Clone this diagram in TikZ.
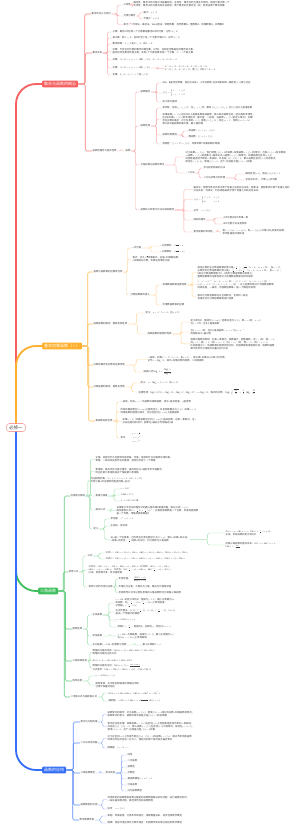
\documentclass[tikz,border=0pt]{standalone}
\usepackage{amsmath}
\usepackage{fontspec}
\setmainfont{Noto Sans CJK SC}
\DeclareFontShape{OT1}{cmr}{m}{n}{<->cmr10}{}
\DeclareFontShape{OML}{cmm}{m}{it}{<->cmmi10}{}
\DeclareFontShape{OMS}{cmsy}{m}{n}{<->cmsy10}{}
\DeclareFontShape{OT1}{cmr}{bx}{n}{<->cmbx10}{}
\usetikzlibrary{calc}
\definecolor{cred}{RGB}{246,96,96}
\definecolor{corange}{RGB}{255,176,46}
\definecolor{cgreen}{RGB}{62,190,92}
\definecolor{cblue}{RGB}{52,110,246}
\definecolor{ctext}{RGB}{64,64,64}
\tikzset{
	root/.style={draw=cred!60, line width=0.6pt, fill=white, rounded corners=3pt, inner xsep=3pt, inner ysep=2pt, font=\fontsize{4.4}{4.4}\selectfont, text=ctext},
	branch/.style={fill=#1, text=white, rounded corners=1pt, anchor=west, inner xsep=2pt, inner ysep=1.4pt, font=\fontsize{4}{4}\selectfont},
	leaf/.style={anchor=west, inner sep=0.4pt, align=left, text=ctext, font=\fontsize{2.4}{3}\selectfont},
	trunk/.style={draw=#1, line width=1.8pt, rounded corners=20pt},
	limb/.style={draw=#1!80, line width=0.6pt, rounded corners=1.5pt},
	twig/.style={draw=#1!50, line width=0.45pt, rounded corners=1.5pt},
}
\begin{document}
\begin{tikzpicture}[x=1pt,y=-1pt]
	\fill[white] (0,0) rectangle (300,825);
	\node[root] (root) at (16,427.5) {必修一};
	\node[branch=cred] (R) at (42,84) {集合与函数的概念};
	\node[branch=corange] (O) at (42,346) {基本初等函数（Ⅰ）};
	\node[branch=cgreen] (G) at (38,591) {三角函数};
	\node[branch=cblue] (B) at (42,770) {函数的应用};
	\draw[trunk=cred] (root.north) |- (R.west);
	\draw[trunk=corange] (root.north) |- (O.west);
	\draw[trunk=cgreen] (root.south) |- (G.west);
	\draw[trunk=cblue] (root.south) |- (B.west);

	\node[leaf] (R1) at (91,14) {集合的含义与表示};
	\node[leaf] (R1a) at (123,5) {三特性};
	\node[leaf] (R1a1) at (133,4.5) {确定性：集合中的元素必须是确定的；互异性：集合中的元素互不相同，相同元素只算一个\\无序性：集合中的元素没有先后顺序；两个集合的元素完全一样，就称这两个集合相等};
	\node[leaf] (R1b) at (123,16) {元素与集合};
	\node[leaf] (R1b1) at (143,12.5) {属于：$a\in A$};
	\node[leaf] (R1b2) at (143,19) {不属于：$a\notin A$};
	\node[leaf] (R1c) at (123,24.5) {表示};
	\node[leaf] (R1c1) at (132,24.5) {列举法、描述法、Venn图法；常用数集：自然数集N、整数集Z、有理数集Q、实数集R};
	\node[leaf] (R2) at (92,53) {集合关系};
	\node[leaf] (R2a) at (112,32) {子集：集合A中任意一个元素都是集合B中的元素，记作$A\subseteq B$};
	\node[leaf] (R2b) at (112,38) {真子集：若$A\subseteq B$，且B中至少有一个元素不属于A，记作$A\subset B$};
	\node[leaf] (R2c) at (112,44) {集合相等：$A\subseteq B$且$B\subseteq A$，则$A=B$};
	\node[leaf] (R2d) at (112,51.5) {空集：不含任何元素的集合叫做空集，记作$\emptyset$，并规定空集是任何集合的子集，\\是任何非空集合的真子集；含有$n$个元素的集合有$2^n$个子集，$2^n-1$个真子集};
	\node[leaf] (R2e) at (112,60) {并集：$A\cup B=\{x\mid x\in A$或$x\in B\}$，$A\cup A=A$，$A\cup\emptyset=A$};
	\node[leaf] (R2f) at (112,68) {交集：$A\cap B=\{x\mid x\in A$且$x\in B\}$};
	\node[leaf] (R2f1) at (164,68.7) {$A\cap A=A$，$A\cap\emptyset=\emptyset$，$A\cap B=B\cap A$，\\$A\cap B\subseteq A$，$A\cap B\subseteq B$，若$A\subseteq B$则$A\cap B=A$};
	\node[leaf] (R2g) at (112,75) {补集：$\mathrm{C}_UA=\{x\mid x\in U$且$x\notin A\}$};
	\node[leaf] (R3) at (92,151) {函数的概念与基本性质};
	\node[leaf] (R3x) at (125,151) {函数};
	\node[leaf] (R3a) at (140,92) {函数概念};
	\node[leaf] (R3a1) at (162,83) {设A、B是非空数集，按对应关系$f$，A中任意数$x$在B中都有唯一确定的$f(x)$和它对应};
	\node[leaf] (R3a2) at (162,93) {$f(x)=\begin{cases}x, & x\ge0\\ -x, & x<0\end{cases}$};
	\node[leaf] (R3a3) at (162,102) {定义域与值域};
	\node[leaf] (R3b) at (140,126) {函数性质};
	\node[leaf] (R3b1) at (162,108) {单调性：任取$x_1,x_2\in D$，当$x_1<x_2$时，都有$f(x_1)<f(x_2)$，则$f(x)$在D上是增函数};
	\node[leaf] (R3b2) at (162,119) {如果函数$y=f(x)$在区间D上是增函数或减函数，那么就说函数在这一区间具有单调性，\\区间D叫做$y=f(x)$的单调区间；最大值：一般地，设函数$y=f(x)$的定义域为I，如果\\存在实数M满足：对于任意的$x\in I$，都有$f(x)\le M$；存在$x_0\in I$，使得$f(x_0)=M$，\\那么称M是函数的最大值，最小值同理};
	\node[leaf] (R3b3) at (162,135) {函数的奇偶性};
	\node[leaf] (R3b3a) at (188,131) {奇函数：$f(-x)=-f(x)$};
	\node[leaf] (R3b3b) at (188,137) {偶函数：$f(-x)=f(x)$};
	\node[leaf] (R3b4) at (162,144) {周期性：$f(x+T)=f(x)$，非零常数T叫做函数的周期};
	\node[leaf] (R3c) at (140,165) {方程的根与函数的零点};
	\node[leaf] (R3c1) at (185,157) {对于函数$y=f(x)$，我们把使$f(x)=0$的实数$x$叫做函数$y=f(x)$的零点；方程$f(x)=0$有实数根\\$\Leftrightarrow$函数$y=f(x)$的图象与$x$轴有交点$\Leftrightarrow$函数$y=f(x)$有零点；如果函数在区间$[a,b]$上\\的图象是连续不断的一条曲线，并且有$f(a)\cdot f(b)<0$，那么函数在区间$(a,b)$内有零点，\\即存在$c\in(a,b)$，使得$f(c)=0$，这个$c$也就是方程$f(x)=0$的根};
	\node[leaf] (R3c2) at (187,173) {二分法};
	\node[leaf] (R3c2a) at (203,168) {求方程近似解的方法};
	\node[leaf] (R3c2b) at (203,178) {二分法求零点的步骤};
	\node[leaf] (R3c2b1) at (245,174) {确定区间$[a,b]$，验证$f(a)f(b)<0$};
	\node[leaf] (R3c2b2) at (245,180) {求区间中点$c$，计算$f(c)$并判断};
	\node[leaf] (R3d) at (140,210) {函数的三种表示方法与映射概念};
	\node[leaf] (R3d1) at (193,189.5) {解析法：用数学表达式表示两个变量之间的对应关系；图象法：用图象表示两个变量之间的\\对应关系；列表法：列出表格来表示两个变量之间的对应关系};
	\node[leaf] (R3d2) at (193,199.5) {$f(x)=\begin{cases}x^2+1, & x\le1\\ 2x, & x>1\end{cases}$};
	\node[leaf] (R3d3) at (193,211) {记作 \quad $y=f(x)$};
	\node[leaf] (R3d4) at (193,220) {映射的概念};
	\node[leaf] (R3d4a) at (223,218) {A中元素在B中有唯一象};
	\node[leaf] (R3d4b) at (223,224) {B中元素可以没有原象};
	\node[leaf] (R3d5) at (193,232) {复合函数的单调性};
	\node[leaf] (R3d5a) at (222,232) {若$y=f(u)$，$u=g(x)$，则$y=f[g(x)]$叫做$f$和$g$的复合函数；\\单调性满足同增异减};

	\node[leaf] (O1) at (93,272) {指数与指数幂的运算及性质};
	\node[leaf] (O1a) at (132,248) {$n$次方根};
	\node[leaf] (O1a1) at (160,246) {$n$为奇数时，$\sqrt[n]{a^n}=a$};
	\node[leaf] (O1a2) at (160,252) {$n$为偶数时，$\sqrt[n]{a^n}=|a|$};
	\node[leaf] (O1b) at (132,259) {根式：式子$\sqrt[n]{a}$叫做根式，这里$n$叫做根指数，\\$a$叫做被开方数；负数没有偶次方根};
	\node[leaf] (O1c) at (130,295) {分数指数幂的意义};
	\node[leaf] (O1c1) at (162,285) {有理数指数幂运算性质};
	\node[leaf] (O1c1a) at (197,272.5) {规定正数的正分数指数幂的意义是$a^{\frac mn}=\sqrt[n]{a^m}$（$a>0$，$m,n\in\mathrm N^*$，且$n>1$），\\正数的负分数指数幂的意义是$a^{-\frac mn}=1/a^{\frac mn}$（$a>0$，$m,n\in\mathrm N^*$，且$n>1$）；\\0的正分数指数幂等于0，0的负分数指数幂没有意义；\\整数指数幂的运算性质对于有理数指数幂也同样适用};
	\node[leaf] (O1c1b) at (197,284.5) {$a^r\cdot a^s=a^{r+s}$（$a>0$，$r,s\in\mathrm Q$）；$(a^r)^s=a^{rs}$（$a>0$，$r,s\in\mathrm Q$）；\\$(ab)^r=a^rb^r$（$a>0$，$b>0$，$r\in\mathrm Q$）；以上运算性质对于无理数指数幂\\同样适用，一般地，无理数指数幂$a^\alpha$是一个确定的实数};
	\node[leaf] (O1c1c) at (197,297) {根式与分数指数幂可以互相转化，化简时一般先\\将根式化为分数指数幂再进行运算};
	\node[leaf] (O1c2) at (162,305) {无理数指数幂的运算};
	\node[leaf] (O2) at (93,324) {指数函数的概念、图象及其性质};
	\node[leaf] (O2a) at (145,313) {定义：$y=a^x$（$a>0$，且$a\ne1$）};
	\node[leaf] (O2b) at (147,334) {指数函数的图象和性质};
	\node[leaf] (O2b1) at (190,322) {定义域为$\mathrm R$，值域为$(0,+\infty)$；图象过定点$(0,1)$，即$x=0$时，$y=1$；\\当$a>1$时，在$\mathrm R$上是增函数};
	\node[leaf] (O2b2) at (190,332) {当$0<a<1$时，在$\mathrm R$上是减函数；$y=a^x$与$y=a^{-x}$\\的图象关于$y$轴对称};
	\node[leaf] (O2b3) at (190,343.8) {底数对图象的影响：在第一象限内，底数越大，图象越高；当$a>1$时，若$x>0$，\\则$y>1$；若$x<0$，则$0<y<1$；当$0<a<1$时，若$x>0$，则$0<y<1$；\\比较幂值大小：同底数幂利用单调性比较，同指数幂利用图象比较，底数和指数\\都不同时可以借助中间量1进行比较};
	\node[leaf] (O3) at (93,365) {对数的概念及对数的运算性质};
	\node[leaf] (O3a) at (147,359.5) {一般地，如果$a^x=N$（$a>0$，且$a\ne1$），那么数$x$叫做以$a$为底$N$的对数，\\记作$x=\log_aN$，其中$a$叫做对数的底数，$N$叫做真数};
	\node[leaf] (O3b) at (143,372) {换底公式 $\log_ab=\dfrac{\log_cb}{\log_ca}$};
	\node[leaf] (O4) at (93,387) {对数函数的概念、图象及性质};
	\node[leaf] (O4a) at (140,383) {定义：$y=\log_ax$（$a>0$，且$a\ne1$）};
	\node[leaf] (O4b) at (138,392) {运算性质：$\log_a(MN)=\log_aM+\log_aN$，$\log_aM^n=n\log_aM$，根式的对数 \quad $\log_a\sqrt[n]{\dfrac MN}=\dfrac1n\log_a\dfrac MN$};
	\node[leaf] (O5) at (95,421) {幂函数及其性质};
	\node[leaf] (O5a) at (120,402) {一般地，形如$y=x^\alpha$的函数叫做幂函数，其中$x$是自变量，$\alpha$是常数};
	\node[leaf] (O5b) at (120,411.5) {所有的幂函数在$(0,+\infty)$上都有定义，并且图象都过点$(1,1)$；如果$\alpha>0$，\\则幂函数的图象过原点，并且在区间$[0,+\infty)$上是增函数};
	\node[leaf] (O5c) at (122,421.5) {如果$\alpha<0$，则幂函数在区间$(0,+\infty)$上是减函数，在第一象限内，当$x$\\从右边趋向原点时，图象在$y$轴右方无限逼近$y$轴};
	\node[leaf] (O5d) at (120,438) {常见 \; $\begin{array}{c}y=x^{\frac12}\\[1pt] y=x^2\\[1pt] y=x^{-1}\end{array}$};

	\node[leaf] (G1) at (70,496) {任意角与弧度};
	\node[leaf] (G1a) at (95,459.5) {正角：按逆时针方向旋转形成的角；负角：按顺时针方向旋转形成的角；\\零角：一条射线没有作任何旋转，就称它形成了一个零角};
	\node[leaf] (G1b) at (95,471.5) {象限角：角的顶点与原点重合，角的始边与$x$轴的非负半轴重合，\\终边在第几象限就说这个角是第几象限角};
	\node[leaf] (G1c) at (90,480.5) {终边相同的角：$S=\{\beta\mid\beta=\alpha+k\cdot360^\circ,k\in\mathrm Z\}$\\所有与角$\alpha$终边相同的角连同角$\alpha$在内};
	\node[leaf] (G1d) at (95,496) {角度与弧度};
	\node[leaf] (G1d1) at (120,489) {$\pi=180^\circ$};
	\node[leaf] (G1d2) at (120,495) {$1\,\mathrm{rad}\approx57.3^\circ$};
	\node[leaf] (G1d3) at (120,501) {$1^\circ\approx0.01745\,\mathrm{rad}$};
	\node[leaf] (G1e) at (95,510) {弧长公式};
	\node[leaf] (G1e1) at (116,510.5) {长度等于半径长的弧所对的圆心角叫做1弧度的角；弧长公式$l=|\alpha|r$，\\扇形面积公式$S=\frac12lr=\frac12|\alpha|r^2$；正角的弧度数是一个正数，负角的弧度数\\是一个负数，零角的弧度数是0};
	\node[leaf] (G1f) at (93,529) {定义};
	\node[leaf] (G1f1) at (110,519) {单位圆 \quad $x^2+y^2=1$};
	\node[leaf] (G1f2) at (110,526) {正弦线、余弦线};
	\node[leaf] (G1f3) at (110,539.5) {设$\alpha$是一个任意角，它的终边与单位圆交于点$P(x,y)$，那么$y$叫做$\alpha$的正弦，\\$x$叫做$\alpha$的余弦，$\frac yx$叫做$\alpha$的正切，它们统称为三角函数};
	\node[leaf] (G1f3a) at (225,533) {$\sin\alpha=y$，$\cos\alpha=x$，$\tan\alpha=\frac yx(x\ne0)$，\\正弦、余弦函数的定义域为$\mathrm R$};
	\node[leaf] (G1f3b) at (225,545) {同角三角函数的基本关系：$\sin^2\alpha+\cos^2\alpha=1$，\\$\tan\alpha=\frac{\sin\alpha}{\cos\alpha}$};
	\node[leaf] (G2) at (68,572) {诱导公式};
	\node[leaf] (G2a) at (87,556) {公式};
	\node[leaf] (G2a1) at (105,553) {公式一：$\sin(\alpha+2k\pi)=\sin\alpha$，$\cos(\alpha+2k\pi)=\cos\alpha$，$\tan(\alpha+2k\pi)=\tan\alpha$};
	\node[leaf] (G2a2) at (105,559) {公式二：$\sin(\pi+\alpha)=-\sin\alpha$，$\cos(\pi+\alpha)=-\cos\alpha$，$\tan(\pi+\alpha)=\tan\alpha$};
	\node[leaf] (G2b) at (88,570) {公式三：$\sin(-\alpha)=-\sin\alpha$，$\cos(-\alpha)=\cos\alpha$；公式四：$\sin(\pi-\alpha)=\sin\alpha$，\\$\cos(\pi-\alpha)=-\cos\alpha$；公式五：$\sin(\frac\pi2-\alpha)=\cos\alpha$，$\cos(\frac\pi2-\alpha)=\sin\alpha$；\\口诀：奇变偶不变，符号看象限};
	\node[leaf] (G2c) at (88,587) {诱导公式的作用与应用};
	\node[leaf] (G2c1) at (118,579) {化简求值：\quad $\dfrac{\sin(\pi-\alpha)}{\cos(\pi+\alpha)}$};
	\node[leaf] (G2c2) at (118,587) {负角化为正角，大角化为小角，最后化为锐角求值};
	\node[leaf] (G2c3) at (118,593) {利用诱导公式可以把任意角的三角函数转化为锐角三角函数};
	\node[leaf] (G3) at (72,629) {图象性质};
	\node[leaf] (G3a) at (92,615) {正弦函数};
	\node[leaf] (G3a1) at (115,603) {$y=\sin x$的定义域为$\mathrm R$，值域为$[-1,1]$，最小正周期为$2\pi$，\\奇函数，在$[-\frac\pi2+2k\pi,\frac\pi2+2k\pi]$上单调递增，\\对称轴$x=\frac\pi2+k\pi$};
	\node[leaf] (G3a2) at (115,612) {五点作图法：$(0,0)$，$(\frac\pi2,1)$，$(\pi,0)$，$(\frac{3\pi}2,-1)$，$(2\pi,0)$\\画出一个周期内的简图};
	\node[leaf] (G3a3) at (115,620) {$y=A\sin(\omega x+\varphi)$};
	\node[leaf] (G3a4) at (117,627) {周期$T=\frac{2\pi}{\omega}$，振幅为A，初相为$\varphi$，相位为$\omega x+\varphi$};
	\node[leaf] (G3b) at (92,636) {余弦函数};
	\node[leaf] (G3b1) at (117,636) {$y=\cos x$为偶函数，值域为$[-1,1]$，最小正周期为$2\pi$；\\在$[2k\pi-\pi,2k\pi]$上单调递增};
	\node[leaf] (G3c) at (92,645) {正切函数$y=\tan x$的图象与性质};
	\node[leaf] (G3c1) at (142,645) {最小正周期$T=\pi$};
	\node[leaf] (G4) at (72,661) {三角恒等变换};
	\node[leaf] (G4a) at (92,652.5) {两角和与差的余弦：$\cos(\alpha\pm\beta)=\cos\alpha\cos\beta\mp\sin\alpha\sin\beta$\\两角和与差的正弦公式};
	\node[leaf] (G4b) at (92,661) {$\sin(\alpha\pm\beta)=\sin\alpha\cos\beta\pm\cos\alpha\sin\beta$};
	\node[leaf] (G4c) at (92,668) {两角和与差的正切：$\tan(\alpha\pm\beta)=\frac{\tan\alpha\pm\tan\beta}{1\mp\tan\alpha\tan\beta}$，\\公式变形：$\tan\alpha+\tan\beta=\tan(\alpha+\beta)(1-\tan\alpha\tan\beta)$};
	\node[leaf] (G5) at (72,681) {简单应用};
	\node[leaf] (G5a) at (95,676) {$y=A\sin(\omega x+\varphi)$};
	\node[leaf] (G5b) at (95,685) {图象变换：先平移后伸缩或先伸缩后平移，\\注意平移量的区别};
	\node[leaf] (G6) at (70,697) {二倍角公式与辅助角公式};
	\node[leaf] (G6a) at (108,693) {$\sin2\alpha=2\sin\alpha\cos\alpha$，$\cos2\alpha=\cos^2\alpha-\sin^2\alpha$};
	\node[leaf] (G6b) at (108,701) {辅助角 \quad $a\sin x+b\cos x=\sqrt{a^2+b^2}\sin(x+\varphi)$};

	\node[leaf] (B1) at (80,722) {零点与方程的根};
	\node[leaf] (B1a) at (107,714.5) {函数零点的概念：对于函数$y=f(x)$，把使$f(x)=0$成立的实数$x$叫做函数的零点；\\函数零点的意义：函数的零点就是方程$f(x)=0$的实数根};
	\node[leaf] (B1b) at (107,726.5) {零点存在性定理：如果函数$y=f(x)$在区间$[a,b]$上的图象是连续不断的一条曲线，\\并且有$f(a)\cdot f(b)<0$，那么函数$y=f(x)$在区间$(a,b)$内有零点，即存在$c\in(a,b)$，\\使得$f(c)=0$，这个$c$也就是方程$f(x)=0$的根};
	\node[leaf] (B2) at (80,743) {二分法求近似解};
	\node[leaf] (B2a) at (107,738.5) {对于在区间$[a,b]$上连续不断且$f(a)\cdot f(b)<0$的函数$y=f(x)$，通过不断地把函数\\的零点所在的区间一分为二，使区间的两个端点逐步逼近零点};
	\node[leaf] (B2b) at (107,748) {精确度 \quad $|a-b|<\varepsilon$};
	\node[leaf] (B3) at (80,773) {几类函数模型};
	\node[leaf] (B3x) at (105,773) {常见类型};
	\node[leaf] (B3a) at (127,755) {线性};
	\node[leaf] (B3b) at (127,761) {二次函数};
	\node[leaf] (B3c) at (127,767) {指数型};
	\node[leaf] (B3d) at (127,773) {对数型};
	\node[leaf] (B3e) at (127,779) {幂函数模型$y=ax^n+b$};
	\node[leaf] (B3f) at (127,785) {分段函数};
	\node[leaf] (B3g) at (127,791) {对勾函数模型};
	\node[leaf] (B4) at (80,805) {函数模型的应用};
	\node[leaf] (B4a) at (107,799.5) {利用给定的函数模型或建立确定的函数模型解决实际问题，进行函数拟合时，\\一般先画出散点图，再选择恰当的函数模型};
	\node[leaf] (B4b) at (107,809) {拟合 \quad $y=f(x)$};
	\node[leaf] (B5) at (79,820) {数学建模步骤};
	\node[leaf] (B5a) at (107,816) {审题：弄清题意，分清条件和结论，理顺数量关系，初步选择数学模型};
	\node[leaf] (B5b) at (107,823) {建模：将自然语言转化为数学语言，利用数学知识建立相应的数学模型};

	\foreach \p/\q in {R/R1,R/R2,R/R3}
		\draw[limb=cred] (\p.east) -- ($(\p.east)!.5!(\p.east-|\q.west)$) |- (\q.west);
	\foreach \p/\q in {R1/R1a,R1/R1b,R1/R1c,R1a/R1a1,R1b/R1b1,R1b/R1b2,R1c/R1c1,
		R2/R2a,R2/R2b,R2/R2c,R2/R2d,R2/R2e,R2/R2f,R2/R2g,R2f/R2f1,
		R3/R3x,R3x/R3a,R3x/R3b,R3x/R3c,R3x/R3d,R3a/R3a1,R3a/R3a2,R3a/R3a3,
		R3b/R3b1,R3b/R3b2,R3b/R3b3,R3b/R3b4,R3b3/R3b3a,R3b3/R3b3b,
		R3c/R3c1,R3c/R3c2,R3c2/R3c2a,R3c2/R3c2b,R3c2b/R3c2b1,R3c2b/R3c2b2,
		R3d/R3d1,R3d/R3d2,R3d/R3d3,R3d/R3d4,R3d/R3d5,R3d4/R3d4a,R3d4/R3d4b,R3d5/R3d5a}
		\draw[twig=cred] (\p.east) -- ($(\p.east)!.5!(\p.east-|\q.west)$) |- (\q.west);
	\foreach \p/\q in {O/O1,O/O2,O/O3,O/O4,O/O5}
		\draw[limb=corange] (\p.east) -- ($(\p.east)!.5!(\p.east-|\q.west)$) |- (\q.west);
	\foreach \p/\q in {O1/O1a,O1/O1b,O1/O1c,O1a/O1a1,O1a/O1a2,O1c/O1c1,O1c/O1c2,
		O1c1/O1c1a,O1c1/O1c1b,O1c1/O1c1c,O2/O2a,O2/O2b,O2b/O2b1,O2b/O2b2,O2b/O2b3,
		O3/O3a,O3/O3b,O4/O4a,O4/O4b,O5/O5a,O5/O5b,O5/O5c,O5/O5d}
		\draw[twig=corange] (\p.east) -- ($(\p.east)!.5!(\p.east-|\q.west)$) |- (\q.west);
	\foreach \p/\q in {G/G1,G/G2,G/G3,G/G4,G/G5,G/G6}
		\draw[limb=cgreen] (\p.east) -- ($(\p.east)!.5!(\p.east-|\q.west)$) |- (\q.west);
	\foreach \p/\q in {G1/G1a,G1/G1b,G1/G1c,G1/G1d,G1/G1e,G1/G1f,G1d/G1d1,G1d/G1d2,G1d/G1d3,
		G1e/G1e1,G1f/G1f1,G1f/G1f2,G1f/G1f3,G1f3/G1f3a,G1f3/G1f3b,
		G2/G2a,G2/G2b,G2/G2c,G2a/G2a1,G2a/G2a2,G2c/G2c1,G2c/G2c2,G2c/G2c3,
		G3/G3a,G3/G3b,G3/G3c,G3a/G3a1,G3a/G3a2,G3a/G3a3,G3a/G3a4,G3b/G3b1,G3c/G3c1,
		G4/G4a,G4/G4b,G4/G4c,G5/G5a,G5/G5b,G6/G6a,G6/G6b}
		\draw[twig=cgreen] (\p.east) -- ($(\p.east)!.5!(\p.east-|\q.west)$) |- (\q.west);
	\foreach \p/\q in {B/B1,B/B2,B/B3,B/B4,B/B5}
		\draw[limb=cblue] (\p.east) -- ($(\p.east)!.5!(\p.east-|\q.west)$) |- (\q.west);
	\foreach \p/\q in {B1/B1a,B1/B1b,B2/B2a,B2/B2b,B3/B3x,B3x/B3a,B3x/B3b,B3x/B3c,B3x/B3d,
		B3x/B3e,B3x/B3f,B3x/B3g,B4/B4a,B4/B4b,B5/B5a,B5/B5b}
		\draw[twig=cblue] (\p.east) -- ($(\p.east)!.5!(\p.east-|\q.west)$) |- (\q.west);
\end{tikzpicture}
\end{document}
